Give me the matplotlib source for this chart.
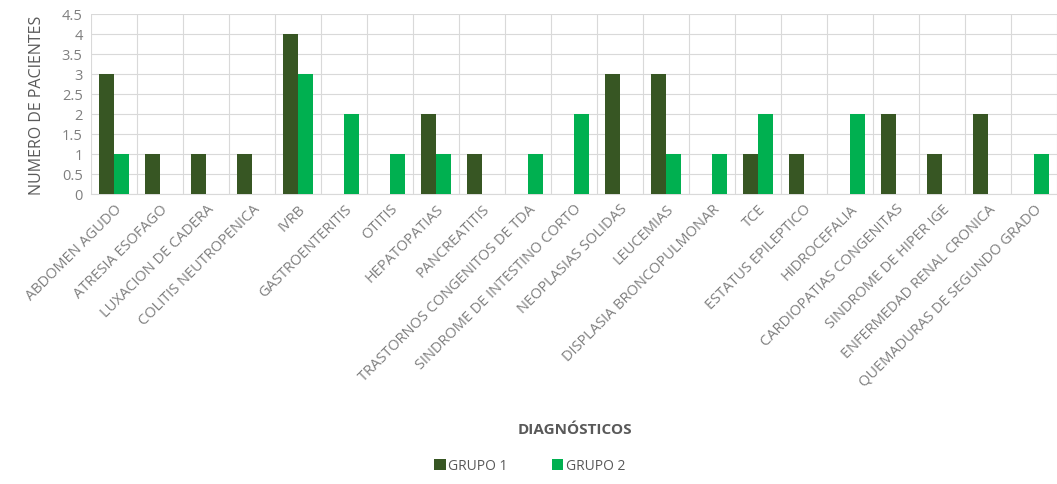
import numpy as np
import matplotlib.pyplot as plt
from matplotlib.ticker import MultipleLocator, FixedLocator

diagnosticos = ["ABDOMEN AGUDO", "ATRESIA ESOFAGO", "LUXACION DE CADERA",
                "COLITIS NEUTROPENICA", "IVRB", "GASTROENTERITIS", "OTITIS",
                "HEPATOPATIAS", "PANCREATITIS", "TRASTORNOS CONGENITOS DE TDA",
                "SINDROME DE INTESTINO CORTO", "NEOPLASIAS SOLIDAS", "LEUCEMIAS",
                "DISPLASIA BRONCOPULMONAR", "TCE", "ESTATUS EPILEPTICO",
                "HIDROCEFALIA", "CARDIOPATIAS CONGENITAS", "SINDROME DE HIPER IGE",
                "ENFERMEDAD RENAL CRONICA", "QUEMADURAS DE SEGUNDO GRADO"]
grupo1 = [3, 1, 1, 1, 4, 0, 0, 2, 1, 0, 0, 3, 3, 0, 1, 1, 0, 2, 1, 2, 0]
grupo2 = [1, 0, 0, 0, 3, 2, 1, 1, 0, 1, 2, 0, 1, 1, 2, 0, 2, 0, 0, 0, 1]

plt.rcParams['font.family'] = ['Open Sans', 'DejaVu Sans']
gris = "#595959"
gris_claro = "#7f7f7f"

fig = plt.figure(figsize=(10.57, 4.85), dpi=100)
ax = fig.add_axes([91/1057, 1-195/485, 1-91/1057, 180/485])

x = np.arange(len(diagnosticos))
w = 0.33
ax.bar(x - w/2, grupo1, w, color="#375623", label="GRUPO 1", zorder=3)
ax.bar(x + w/2, grupo2, w, color="#00B050", label="GRUPO 2", zorder=3)

ax.set_xlim(-0.5, len(diagnosticos) - 0.5)
ax.set_ylim(0, 4.5)
ax.yaxis.set_major_locator(MultipleLocator(0.5))
ax.set_yticklabels([f"{v:g}" for v in ax.get_yticks()])
ax.set_xticks(x)
ax.set_xticklabels(diagnosticos, rotation=45, ha="right", rotation_mode="anchor",
                   fontsize=10.5, color=gris_claro)
ax.xaxis.set_minor_locator(FixedLocator(np.arange(-0.5, len(diagnosticos), 1)))
ax.grid(axis="y", which="major", color="#d9d9d9", lw=0.8, zorder=0)
ax.grid(axis="x", which="minor", color="#d9d9d9", lw=0.8, zorder=0)
ax.tick_params(axis="both", which="both", length=0)
ax.tick_params(axis="y", labelsize=10.5, pad=6, labelcolor=gris_claro)
ax.tick_params(axis="x", pad=5)
for s in ["top", "right", "left"]:
    ax.spines[s].set_visible(False)
ax.spines["bottom"].set_color("#d9d9d9")

fig.text(37/1057, 1-105/485, "NUMERO DE PACIENTES", rotation=90, ha="center",
         va="center", fontsize=11.5, color=gris)
fig.text(575/1057, 1-430/485, "DIAGNÓSTICOS", ha="center", va="center",
         fontsize=11, color=gris, fontweight="bold")
fig.legend(loc="center", bbox_to_anchor=(530/1057, 1-467/485), ncol=2, frameon=False,
           fontsize=10, labelcolor=gris, handlelength=0.8, handleheight=0.8,
           handletextpad=0.2, columnspacing=3.2)

fig.savefig("out.png", dpi=100)
